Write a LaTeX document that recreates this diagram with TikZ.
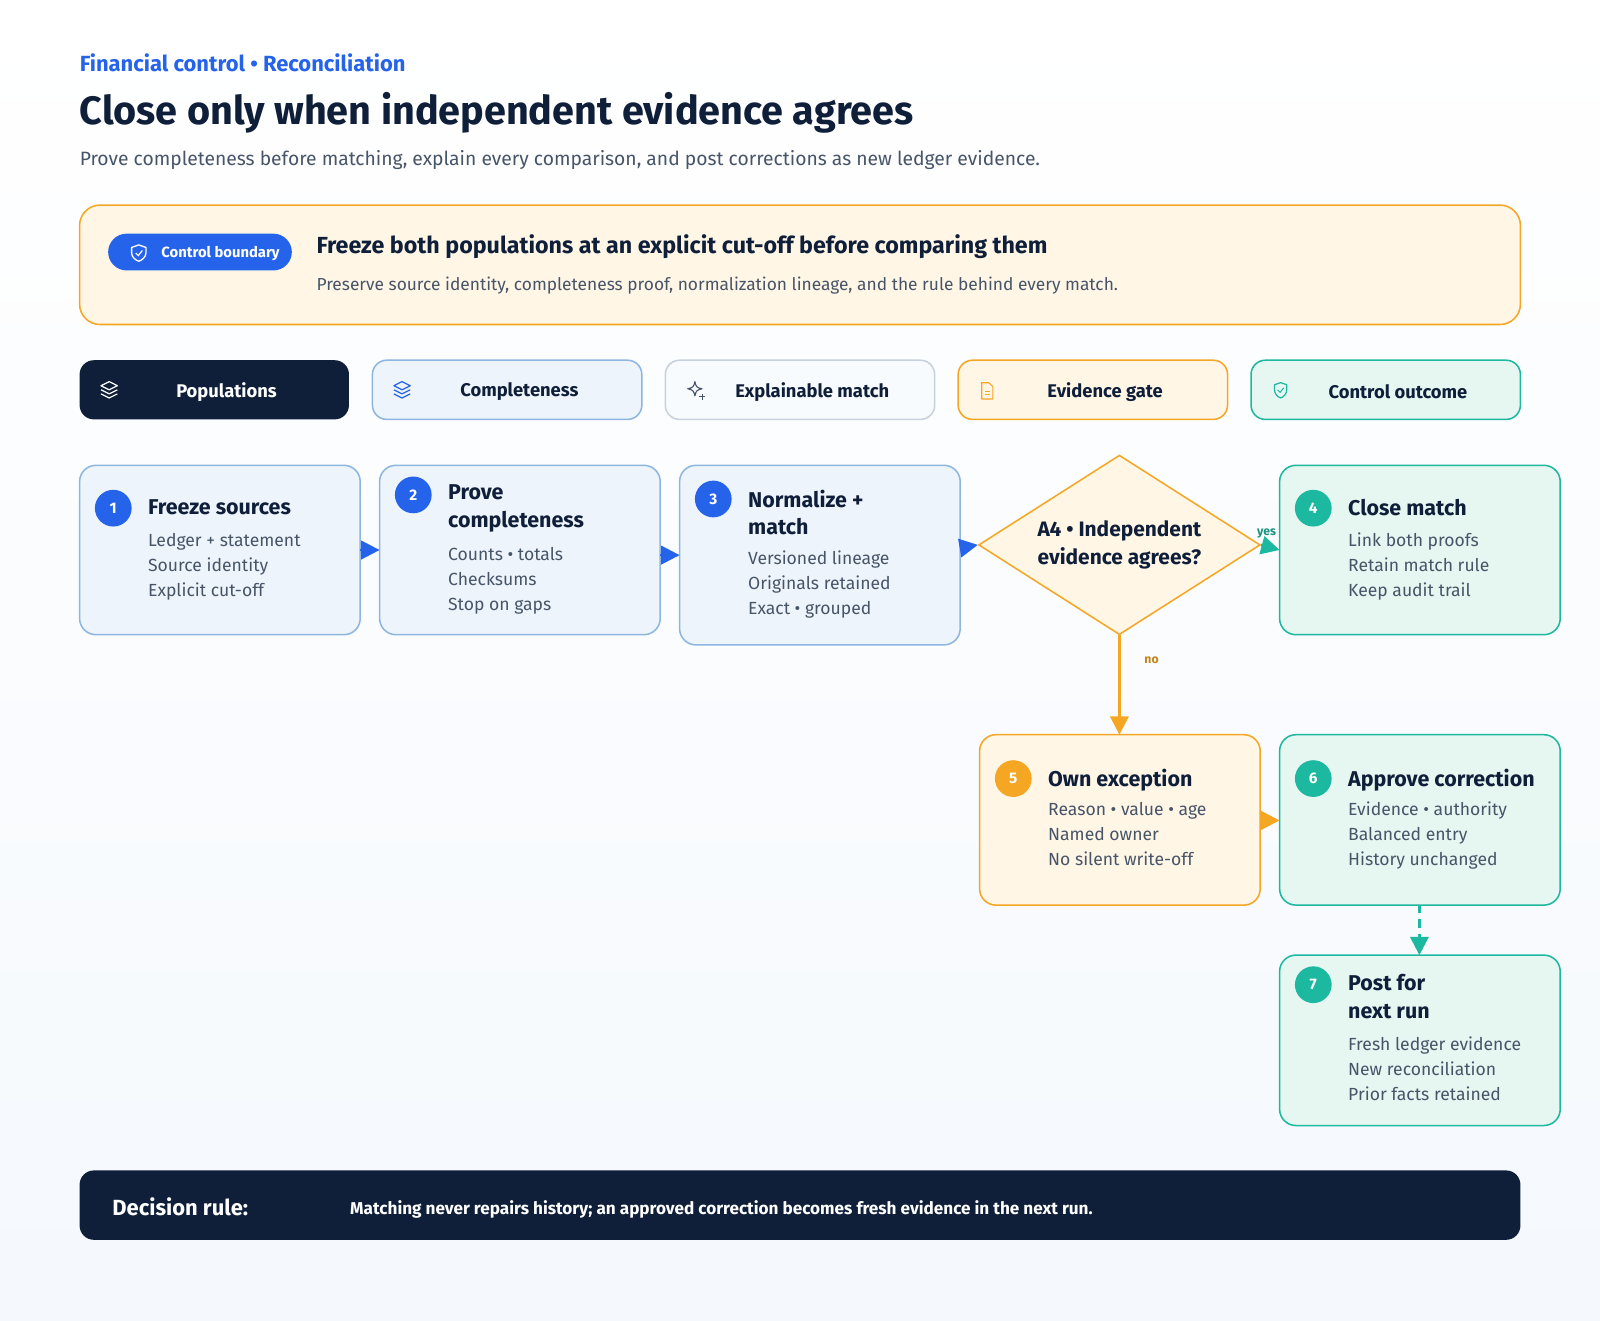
\documentclass[tikz,border=0pt]{standalone}
\usepackage{fontspec}
\setmainfont{Fira Sans}
\usetikzlibrary{arrows.meta,shapes.geometric}
\definecolor{navy}{HTML}{0F1F3A}
\definecolor{blue}{HTML}{2563EB}
\definecolor{slate}{HTML}{475569}
\definecolor{cream}{HTML}{FFF6E6}
\definecolor{orange}{HTML}{F5A623}
\definecolor{lblue}{HTML}{EEF4FB}
\definecolor{bstroke}{HTML}{8DB6E0}
\definecolor{mint}{HTML}{E6F6F1}
\definecolor{teal}{HTML}{1DB8A0}
\definecolor{gstroke}{HTML}{C5D1DD}
\tikzset{x=1pt,y=-1pt,
 box/.style={rounded corners=16pt,line width=1.5pt},
 bl/.style={box,fill=lblue,draw=bstroke},
 ok/.style={box,fill=mint,draw=teal},
 ex/.style={box,fill=cream,draw=orange},
 badge/.style={circle,minimum size=36pt,inner sep=0pt,text=white,font=\fontsize{15}{15}\selectfont\bfseries},
 ttl/.style={anchor=north west,align=left,text=navy,font=\fontsize{21}{27}\selectfont\bfseries,inner sep=0pt},
 sub/.style={anchor=north west,align=left,text=slate,font=\fontsize{17.2}{24.5}\selectfont,inner sep=0pt},
 lane/.style={box,rounded corners=14pt},
 lanet/.style={font=\fontsize{18}{18}\selectfont\bfseries},
 arr/.style={-{Triangle[length=18pt,width=18pt]},line width=2.5pt},
}
\begin{document}
\begin{tikzpicture}
\useasboundingbox (0,0) rectangle (1568,1294);
\fill[top color=white,bottom color=lblue!60] (0,0) rectangle (1568,1294);
\node[anchor=west,text=blue,font=\fontsize{21.5}{21.5}\selectfont\bfseries,inner sep=0pt] (eb) at (78,62) {Financial control • Reconciliation};
\node[anchor=west,text=navy,font=\fontsize{38.8}{38.8}\selectfont\bfseries,inner sep=0pt] (title) at (78,111) {Close only when independent evidence agrees};
\node[anchor=west,text=slate,font=\fontsize{18.9}{18.9}\selectfont,inner sep=0pt] (subt) at (78,157) {Prove completeness before matching, explain every comparison, and post corrections as new ledger evidence.};
% banner
\draw[box,rounded corners=20pt,fill=cream,draw=orange] (78,201) rectangle (1490,318);
\fill[blue,rounded corners=18pt] (106,229) rectangle (286,265);
\node[text=white,font=\fontsize{14.5}{14.5}\selectfont\bfseries,anchor=west,inner sep=0pt] (pill) at (158,248) {Control boundary};
\draw[white,line width=1.3pt,line join=round] (136,240) -- (143,242.5) -- (143,248) .. controls (143,252) and (139,255) .. (136,256) .. controls (133,255) and (129,252) .. (129,248) -- (129,242.5) -- cycle;
\draw[white,line width=1.2pt] (133,248) -- (135.5,250.5) -- (139.5,245.5);
\node[anchor=west,text=navy,font=\fontsize{22.8}{22.8}\selectfont\bfseries,inner sep=0pt] (bh) at (310,242) {Freeze both populations at an explicit cut-off before comparing them};
\node[anchor=west,text=slate,font=\fontsize{17}{17}\selectfont,inner sep=0pt] (bs) at (310,280) {Preserve source identity, completeness proof, normalization lineage, and the rule behind every match.};
% lanes
\fill[navy,rounded corners=14pt] (78,353) rectangle (342,411);
\node[lanet,text=white] (l1) at (222,384) {Populations};
\draw[lane,fill=lblue,draw=bstroke] (365,353) rectangle (629,411);
\node[lanet,text=navy] (l2) at (509,384) {Completeness};
\draw[lane,fill=white!60!lblue,draw=gstroke] (652,353) rectangle (916,411);
\node[lanet,text=navy] (l3) at (796,384) {Explainable match};
\draw[lane,fill=cream,draw=orange] (939,353) rectangle (1203,411);
\node[lanet,text=navy] (l4) at (1083,384) {Evidence gate};
\draw[lane,fill=mint,draw=teal] (1226,353) rectangle (1490,411);
\node[lanet,text=navy] (l5) at (1370,384) {Control outcome};
% lane icons
\foreach \x/\c in {107/white,394/blue}{
 \draw[\c,line width=1.2pt,line join=round] (\x-8,378) -- (\x,374) -- (\x+8,378) -- (\x,382) -- cycle;
 \draw[\c,line width=1.2pt,line join=round] (\x-8,382) -- (\x,386) -- (\x+8,382);
 \draw[\c,line width=1.2pt,line join=round] (\x-8,386) -- (\x,390) -- (\x+8,386);}
\draw[slate,line width=1.1pt,line join=round] (681,374) .. controls (682,379) and (683,380) .. (688,381) .. controls (683,382) and (682,383) .. (681,388) .. controls (680,383) and (679,382) .. (674,381) .. controls (679,380) and (680,379) .. (681,374) -- cycle;
\draw[slate,line width=1pt] (688,386) -- (688,392) (685,389) -- (691,389);
\draw[orange,line width=1.2pt,line join=round] (962,375) -- (969,375) -- (973,379) -- (973,391) -- (962,391) -- cycle;
\draw[orange,line width=1pt] (965,384) -- (970,384) (965,387) -- (970,387);
\draw[teal,line width=1.2pt,line join=round] (1255,375) -- (1261,377) -- (1261,382) .. controls (1261,386) and (1258,389) .. (1255,390) .. controls (1252,389) and (1249,386) .. (1249,382) -- (1249,377) -- cycle;
\draw[teal,line width=1pt] (1252,382) -- (1254.5,384.5) -- (1258,380);
% nodes
\draw[bl] (78,456) rectangle (353,622);
\node[badge,fill=blue] (b1) at (111,498) {1};
\node[ttl] (t1) at (145,489) {Freeze sources};
\node[sub] (s1) at (145,522) {Ledger + statement\\Source identity\\Explicit cut-off};
\draw[bl] (372,456) rectangle (647,622);
\node[badge,fill=blue] (b2) at (405,485) {2};
\node[ttl] (t2) at (439,475) {Prove\\completeness};
\node[sub] (s2) at (439,536) {Counts • totals\\Checksums\\Stop on gaps};
\draw[bl] (666,456) rectangle (941,632);
\node[badge,fill=blue] (b3) at (699,489) {3};
\node[ttl] (t3) at (733,480) {Normalize +\\match};
\node[sub] (s3) at (733,540) {Versioned lineage\\Originals retained\\Exact • grouped};
\node[diamond,aspect=1.57,draw=orange,fill=cream,line width=1.5pt,minimum width=276pt,minimum height=176pt,inner sep=0pt,align=center,text=navy,font=\fontsize{20.5}{27}\selectfont\bfseries] (d) at (1097,534) {A4 • Independent\\evidence agrees?};
\draw[ok] (1254,456) rectangle (1529,622);
\node[badge,fill=teal] (b4) at (1287,498) {4};
\node[ttl] (t4) at (1321,489) {Close match};
\node[sub] (s4) at (1321,522) {Link both proofs\\Retain match rule\\Keep audit trail};
\draw[ex] (960,720) rectangle (1235,887);
\node[badge,fill=orange] (b5) at (993,763) {5};
\node[ttl] (t5) at (1027,754) {Own exception};
\node[sub] (s5) at (1027,786) {Reason • value • age\\Named owner\\No silent write-off};
\draw[ok] (1254,720) rectangle (1529,887);
\node[badge,fill=teal] (b6) at (1287,763) {6};
\node[ttl] (t6) at (1321,754) {Approve correction};
\node[sub] (s6) at (1321,786) {Evidence • authority\\Balanced entry\\History unchanged};
\draw[ok] (1254,936) rectangle (1529,1103);
\node[badge,fill=teal] (b7) at (1287,965) {7};
\node[ttl] (t7) at (1321,955) {Post for\\next run};
\node[sub] (s7) at (1321,1016) {Fresh ledger evidence\\New reconciliation\\Prior facts retained};
% connectors
\coordinate (a1) at (353,539); \coordinate (a2) at (372,539);
\coordinate (a3) at (647,544); \coordinate (a4) at (666,544);
\coordinate (a5) at (941,537);
\draw[arr,blue] (a1) -- (a2);
\draw[arr,blue] (a3) -- (a4);
\draw[arr,blue] (a5) -- (d.west);
\coordinate (a6) at (1254,539);
\draw[arr,teal] (d.east) -- (a6) node[pos=0.3,above=3pt,font=\fontsize{12}{12}\selectfont\bfseries,text=teal!80!black] {yes};
\coordinate (a7) at (1097,720);
\draw[arr,orange] (d.south) -- (a7) node[pos=0.25,right=20pt,font=\fontsize{12}{12}\selectfont\bfseries,text=orange!80!black] {no};
\coordinate (a8) at (1235,804); \coordinate (a9) at (1254,804);
\draw[arr,orange] (a8) -- (a9);
\coordinate (a10) at (1391,887); \coordinate (a11) at (1391,936);
\draw[arr,teal,dashed,dash pattern=on 8pt off 6pt] (a10) -- (a11);
% footer
\fill[navy,rounded corners=14pt] (78,1147) rectangle (1490,1215);
\node[anchor=west,text=white,font=\fontsize{21.5}{21.5}\selectfont\bfseries,inner sep=0pt] (fr) at (110,1183) {Decision rule:};
\node[anchor=west,text=white,font=\fontsize{16.8}{16.8}\selectfont\bfseries,inner sep=0pt] (ft) at (343,1185) {Matching never repairs history; an approved correction becomes fresh evidence in the next run.};
\end{tikzpicture}
\end{document}
